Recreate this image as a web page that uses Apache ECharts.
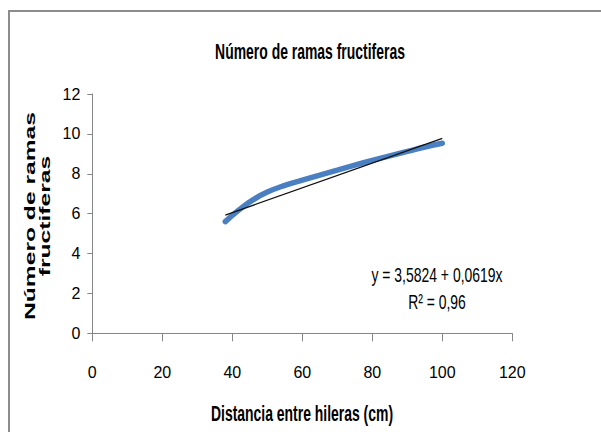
<!DOCTYPE html>
<html>
<head>
<meta charset="utf-8">
<script src="https://cdn.jsdelivr.net/npm/echarts@6/dist/echarts.min.js"></script>
<style>
html,body{margin:0;padding:0;background:#fff;}
#c{width:601px;height:432px;}
</style>
</head>
<body>
<div id="c"></div>
<script>
var titleText = 'Número de ramas fructiferas';
var xName = 'Distancia entre hileras (cm)';
var yNameLines = ['Número de ramas', 'fructiferas'];
var eqLine1 = 'y = 3,5824 + 0,0619x';
var eqLine2 = 'R² = 0,96';
var xTicks = [0, 20, 40, 60, 80, 100, 120];
var yTicks = [0, 2, 4, 6, 8, 10, 12];
var obsX = [38, 42, 46, 50, 55, 60, 65, 70, 75, 80, 85, 90, 95, 100];
var obsY = [5.6, 6.2, 6.7, 7.08, 7.42, 7.68, 7.93, 8.18, 8.43, 8.67, 8.9, 9.12, 9.34, 9.53];
var trendX = [38, 100];
var trendY = [5.93, 9.77];

var ARIAL = '"Liberation Sans",Arial,sans-serif';

var chart = echarts.init(document.getElementById('c'), null, {renderer: 'svg'});

function pairs(xs, ys) { return xs.map(function (x, i) { return [x, ys[i]]; }); }

function txt(text, x, y, font, sx, sy, rot) {
  return {
    type: 'text', x: x, y: y, scaleX: sx, scaleY: sy, rotation: rot || 0, silent: true,
    style: {text: text, font: font, fill: '#000', align: 'center', verticalAlign: 'middle'}
  };
}

chart.setOption({
  animation: false,
  backgroundColor: '#fff',
  grid: {left: 92.3, right: 88.7, top: 94, bottom: 98.7, containLabel: false},
  xAxis: {
    type: 'value', min: 0, max: 120, interval: 20,
    axisLine: {show: true, lineStyle: {color: '#868686', width: 1}},
    axisTick: {show: true, length: 8, lineStyle: {color: '#868686'}},
    axisLabel: {margin: 31, fontFamily: ARIAL, fontSize: 16, color: '#000',
      formatter: function (v) { return xTicks.indexOf(v) >= 0 ? String(v) : ''; }},
    splitLine: {show: false}
  },
  yAxis: {
    type: 'value', min: 0, max: 12, interval: 2,
    axisLine: {show: true, lineStyle: {color: '#868686', width: 1}},
    axisTick: {show: true, length: 5, lineStyle: {color: '#868686'}},
    axisLabel: {margin: 12, fontFamily: ARIAL, fontSize: 16, color: '#000',
      formatter: function (v) { return yTicks.indexOf(v) >= 0 ? String(v) : ''; }},
    splitLine: {show: false}
  },
  series: [
    {
      type: 'line', data: pairs(obsX, obsY), smooth: true, showSymbol: false,
      lineStyle: {color: '#4a7fc1', width: 5.5, cap: 'round'}, z: 2
    },
    {
      type: 'line', data: pairs(trendX, trendY), showSymbol: false,
      lineStyle: {color: '#111', width: 1.3}, z: 3
    }
  ],
  graphic: [
    {type: 'rect', silent: true, shape: {x: 9, y: 11, width: 800, height: 600}, style: {fill: 'none', stroke: '#8c8c8c', lineWidth: 2}},
    txt(titleText, 310, 52, 'bold 17px ' + ARIAL, 0.82, 1.25),
    txt(xName, 302, 414, 'bold 17px ' + ARIAL, 0.82, 1.25),
    txt(eqLine1, 437, 275, '17px ' + ARIAL, 0.82, 1.2),
    txt(eqLine2, 437, 302, '17px ' + ARIAL, 0.82, 1.2),
    txt(yNameLines[0], 30, 216, 'bold 16px ' + ARIAL, 1.54, 0.92, Math.PI / 2),
    txt(yNameLines[1], 44.5, 216, 'bold 16px ' + ARIAL, 1.54, 0.92, Math.PI / 2)
  ]
});
</script>
</body>
</html>
